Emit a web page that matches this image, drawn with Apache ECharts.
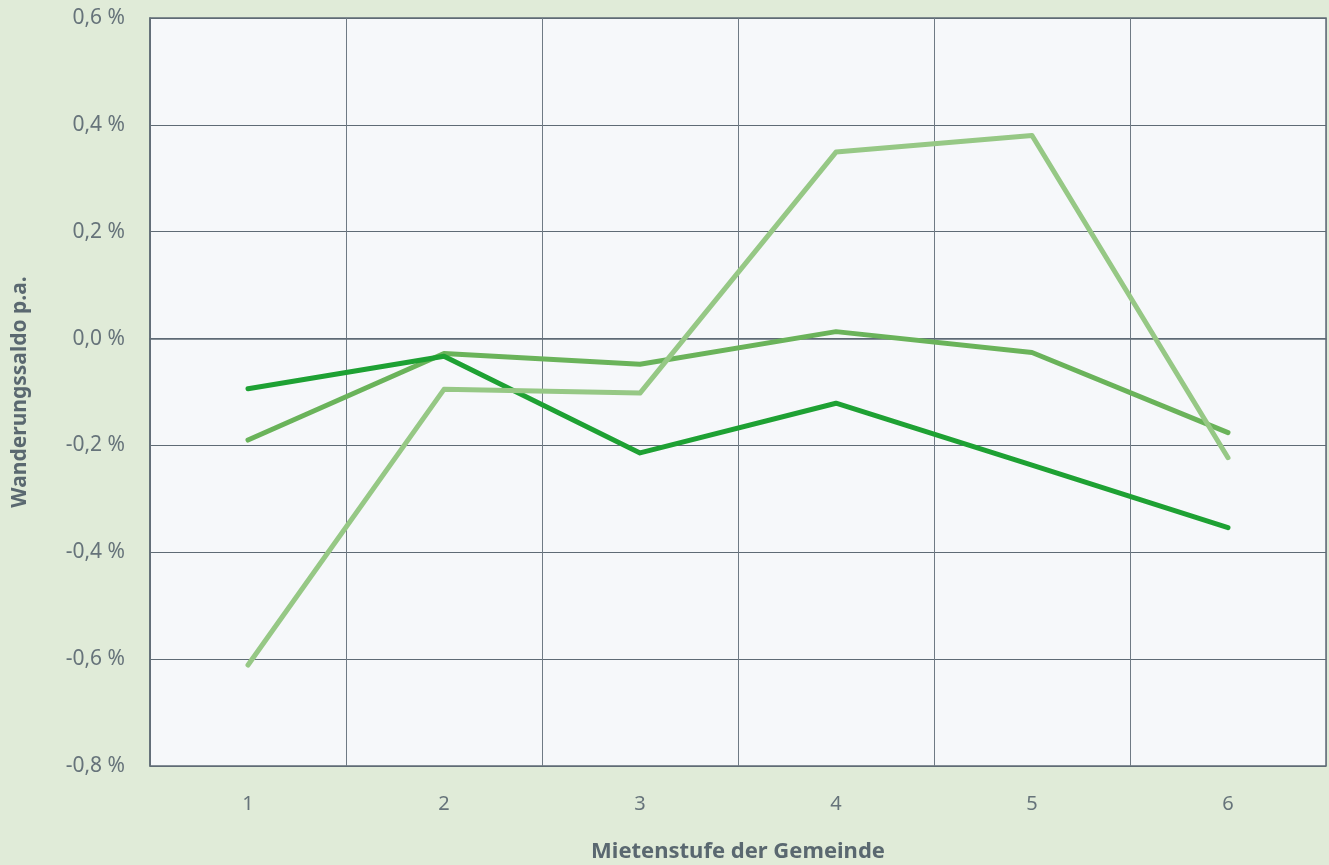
<!DOCTYPE html>
<html><head><meta charset="utf-8">
<script src="https://cdn.jsdelivr.net/npm/echarts@6/dist/echarts.min.js"></script>
<style>html,body{margin:0;padding:0;background:#e0ebd8;}#c{width:1329px;height:865px;}</style>
</head><body><div id="c"></div>
<script>
const categories = ['1','2','3','4','5','6'];
const seriesDark = [-0.094, -0.033, -0.214, -0.121, -0.237, -0.354];
const seriesMid = [-0.190, -0.028, -0.048, 0.013, -0.026, -0.176];
const seriesLight = [-0.611, -0.095, -0.102, 0.349, 0.380, -0.223];
const yTicks = [-0.8, -0.6, -0.4, -0.2, 0, 0.2, 0.4, 0.6];

const font = '"Noto Sans", "Open Sans", sans-serif';
const chart = echarts.init(document.getElementById('c'));
function line(name, data, color, z) {
  return {name, type:'line', data, z, symbol:'none', smooth:false,
    lineStyle:{color, width:5, cap:'round', join:'round'}};
}
chart.setOption({
  animation:false,
  backgroundColor:'#e0ebd8',
  grid:{left:150, right:3, top:18, bottom:99, outerBoundsMode:'none', containLabel:false, show:true, backgroundColor:'#f6f8fa', borderColor:'#5f6b75', borderWidth:1.5},
  xAxis:{type:'category', data:categories, boundaryGap:true,
    name:'Mietenstufe der Gemeinde', nameLocation:'middle', nameGap:75,
    nameTextStyle:{fontFamily:font, fontSize:22, fontWeight:'bold', color:'#5a6870'},
    axisLine:{show:true, lineStyle:{color:'#5f6b75', width:1.5}}, axisTick:{show:false},
    axisLabel:{fontFamily:font, fontSize:20, color:'#66737a', margin:28},
    splitLine:{show:true, interval:0, lineStyle:{color:'#6f7a84', width:1}}},
  yAxis:{type:'value', min:-0.8, max:0.6, interval:0.2,
    name:'Wanderungssaldo p.a.', nameLocation:'middle', nameGap:119,
    nameTextStyle:{fontFamily:font, fontSize:21, fontWeight:'bold', color:'#5a6870'},
    axisLine:{show:true, lineStyle:{color:'#5f6b75', width:1.5}}, axisTick:{show:false},
    axisLabel:{fontFamily:font, fontSize:21, color:'#66737a', margin:25,
      formatter:v=>{const t=yTicks.find(x=>Math.abs(x-v)<1e-9); return (t===undefined?v:t).toFixed(1).replace('.',',')+' %';}},
    splitLine:{show:true, lineStyle:{color:'#5f6b75', width:1}}},
  series:[
    line('Mid', seriesMid, '#6ab35a', 2),
    line('Dark', seriesDark, '#1ea133', 3),
    line('Light', seriesLight, '#96c885', 4)
  ]
});
</script></body></html>
